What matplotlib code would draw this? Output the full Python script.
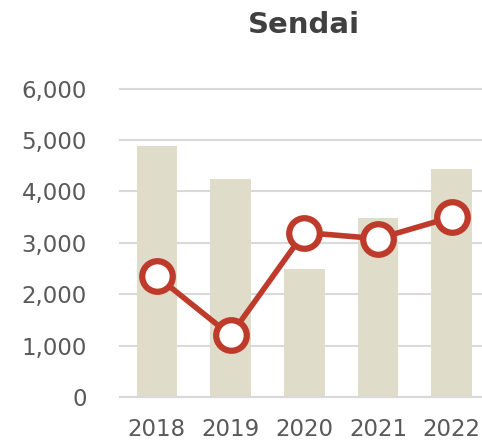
import numpy as np
import matplotlib.pyplot as plt
from matplotlib.ticker import FuncFormatter

years = ['2018', '2019', '2020', '2021', '2022']
bar_vals = [4880, 4240, 2500, 3480, 4440]
line_vals = [2350, 1200, 3200, 3080, 3500]

bar_col = '#E0DCCA'
line_col = '#BE3B2B'
grid_col = '#D9D9D9'
text_col = '#595959'

fig = plt.figure(figsize=(4.82, 4.45), dpi=100)
# axes runs off the right edge a little
ax = fig.add_axes([120/482, 48/445, 368.5/482, (396.7-88.3)/445])

x = np.arange(len(years))
ax.bar(x, bar_vals, width=0.55, color=bar_col, zorder=2)
ax.plot(x, line_vals, color=line_col, lw=4, marker='o', ms=22,
        mfc='white', mec=line_col, mew=4.5, zorder=3, clip_on=False)

ax.set_xlim(-0.5, 4.5)
ax.set_ylim(0, 6000)
ax.set_yticks(range(0, 6001, 1000))
ax.yaxis.set_major_formatter(FuncFormatter(lambda v, p: f'{int(v):,}'))
ax.set_xticks(x)
ax.set_xticklabels(years)

ax.grid(axis='y', color=grid_col, lw=1.5, zorder=0)
for gl in ax.yaxis.get_gridlines():
    gl.set_clip_on(False)
for s in ['top', 'right', 'left']:
    ax.spines[s].set_visible(False)
ax.spines['bottom'].set_color(grid_col)
ax.spines['bottom'].set_linewidth(1.5)
ax.tick_params(length=0, labelsize=16.5, labelcolor=text_col)
ax.tick_params(axis='y', pad=24)
ax.tick_params(axis='x', pad=15)

fig.text(304/482, 1 - 25/445, 'Sendai', ha='center', va='center',
         fontsize=21, fontweight='bold', color='#404040')

fig.savefig('out.png', dpi=100)
